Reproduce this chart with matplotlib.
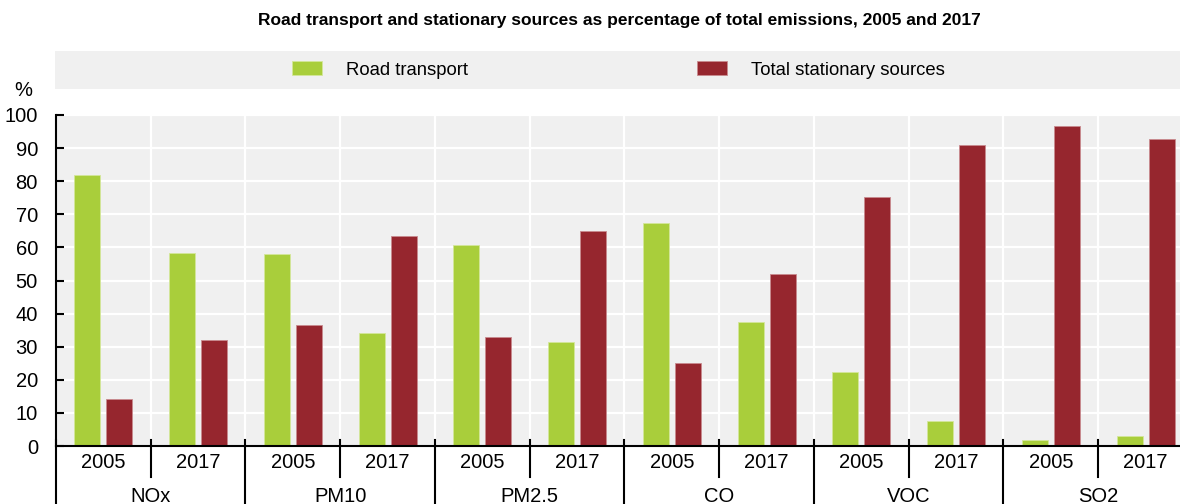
import matplotlib.pyplot as plt
import numpy as np
from matplotlib.patches import Rectangle

pollutants = ["NOx", "PM10", "PM2.5", "CO", "VOC", "SO2"]
years = ["2005", "2017"]

# share of total emissions (%), pairs of 2005 / 2017 per pollutant
road_transport = [82.0, 58.4, 58.1, 34.1, 60.7, 31.5, 67.5, 37.6, 22.4, 7.5, 1.8, 3.1]
stationary = [14.1, 32.0, 36.7, 63.5, 32.8, 65.1, 25.2, 52.1, 75.1, 90.9, 96.7, 92.6]

GREEN = "#a9ce3b"
RED = "#96262e"
BG = "#f0f0f0"

plt.rcParams['font.family'] = ['Liberation Sans Narrow', 'Liberation Sans', 'DejaVu Sans']

W, H = 1180, 504
fig = plt.figure(figsize=(W / 100, H / 100), dpi=100)

# axes placed in pixel units
left, right, top, bottom = 56, 1193, 115, 446
ax = fig.add_axes([left / W, 1 - bottom / H, (right - left) / W, (bottom - top) / H])
ax.set_facecolor(BG)

n = len(road_transport)
x = np.arange(n)
bw = 0.274
off = 0.169
b1 = ax.bar(x - off, road_transport, bw, color=GREEN, edgecolor="#d4e79a", linewidth=0.6,
            label="Road transport", zorder=3)
b2 = ax.bar(x + off, stationary, bw, color=RED, edgecolor="#c88a8f", linewidth=0.6,
            label="Total stationary sources", zorder=3)

ax.set_xlim(-0.5, n - 0.5)
ax.set_ylim(0, 100)
ax.set_yticks(np.arange(0, 101, 10))
ax.tick_params(axis='y', direction='in', length=6, width=1.5, color='black',
               labelsize=14.5, pad=13)
ax.set_xticks(np.arange(n + 1) - 0.5)
ax.set_xticklabels([])
ax.tick_params(axis='x', length=0)
ax.grid(True, color='white', linewidth=1.6, zorder=0)
ax.set_axisbelow(True)

for s in ["top", "right"]:
    ax.spines[s].set_visible(False)
for s in ["left", "bottom"]:
    ax.spines[s].set_linewidth(1.5)
    ax.spines[s].set_color('black')
    ax.spines[s].set_zorder(4)

px = 1 / (bottom - top)
trans = ax.get_xaxis_transform()
for i in range(n):
    ax.text(i, -17 * px, years[i % 2], transform=trans, ha='center', va='center',
            fontsize=14.5, clip_on=False)
for k, name in enumerate(pollutants):
    ax.text(2 * k + 0.5, -50 * px, name, transform=trans, ha='center', va='center',
            fontsize=14.5, clip_on=False)

# separators below the axis: short between years, long between pollutants
for b in range(n + 1):
    xb = b - 0.5
    y1 = -70 * px if b % 2 == 0 else -31 * px
    ax.plot([xb, xb], [6 * px, y1], transform=trans, color='black', lw=1.5,
            clip_on=False, zorder=5)

fig.text(23 / W, 1 - 90 / H, "%", ha='center', va='center', fontsize=14.5)

# legend band with one entry per series
fig.patches.append(Rectangle((55 / W, 1 - 89 / H), 1.0, 38 / H, transform=fig.transFigure,
                             facecolor=BG, edgecolor='none', zorder=0))
for handle, xpos in [(b1, 292), (b2, 697)]:
    fig.legend([handle], [handle.get_label()], loc='center left',
               bbox_to_anchor=(xpos / W, 1 - 70 / H), frameon=False, borderpad=0,
               borderaxespad=0, fontsize=13.3, handlelength=1.6, handleheight=0.8,
               handletextpad=1.3)

fig.text(619 / W, 1 - 20 / H,
         "Road transport and stationary sources as percentage of total emissions, 2005 and 2017",
         ha='center', va='center', fontsize=12.5, fontweight='bold')

fig.savefig("out.png", dpi=100)
